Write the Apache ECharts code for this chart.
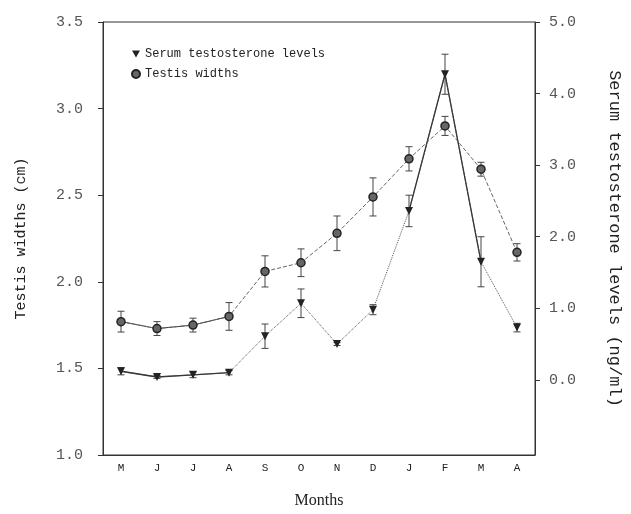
<!DOCTYPE html>
<html>
<head>
<meta charset="utf-8">
<script src="https://cdn.jsdelivr.net/npm/echarts@6/dist/echarts.min.js"></script>
<style>
  html, body { margin: 0; padding: 0; background: #fff; }
  #main { width: 631px; height: 514px; }
</style>
</head>
<body>
<div id="main"></div>
<script>
// months from May to April
const months = ['M', 'J', 'J', 'A', 'S', 'O', 'N', 'D', 'J', 'F', 'M', 'A'];

// testis widths (cm), left axis
const testisWidth = [1.77, 1.73, 1.75, 1.80, 2.06, 2.11, 2.28, 2.49, 2.71, 2.90, 2.65, 2.17];
const testisErr = [0.06, 0.04, 0.04, 0.08, 0.09, 0.08, 0.10, 0.11, 0.07, 0.055, 0.04, 0.05];

// serum testosterone (ng/ml), right axis
const testosterone = [0.12, 0.04, 0.07, 0.10, 0.61, 1.07, 0.50, 0.98, 2.36, 4.27, 1.65, 0.73];
const testoErr = [0.05, 0.02, 0.04, 0.03, 0.17, 0.20, 0.02, 0.07, 0.22, 0.28, 0.35, 0.06];

const leftTicks = [1.0, 1.5, 2.0, 2.5, 3.0, 3.5];
const rightTicks = [0, 1, 2, 3, 4, 5];

// segments drawn as solid lines in the original
const testoSolid = [0, 1, 2, 3, 8, 9, 10];
const testisSolid = [0, 1, 2, 3];

const mono = 'Liberation Mono';
const ink = '#333';

const chart = echarts.init(document.getElementById('main'));

function errBars(values, errs) {
  return values.map((v, i) => [i, v - errs[i], v + errs[i]]);
}

function renderErr(params, api) {
  const x = api.value(0);
  const top = api.coord([x, api.value(2)]);
  const bot = api.coord([x, api.value(1)]);
  const w = 3.5;
  const style = { stroke: '#444', lineWidth: 1 };
  return {
    type: 'group',
    children: [
      { type: 'line', shape: { x1: top[0], y1: top[1], x2: bot[0], y2: bot[1] }, style: style },
      { type: 'line', shape: { x1: top[0] - w, y1: top[1], x2: top[0] + w, y2: top[1] }, style: style },
      { type: 'line', shape: { x1: bot[0] - w, y1: bot[1], x2: bot[0] + w, y2: bot[1] }, style: style }
    ]
  };
}

const option = {
  animation: false,
  backgroundColor: '#fff',
  grid: {
    left: 103, right: 92, top: 22, bottom: 54,
    show: true, borderColor: ink, borderWidth: 1
  },
  legend: {
    orient: 'vertical',
    left: 126, top: 43,
    itemWidth: 8, itemHeight: 8, itemGap: 8,
    textStyle: { fontFamily: mono, fontSize: 12, color: '#222' },
    data: [
      { name: 'Serum testosterone levels', icon: 'path://M0,0 L10,0 L5,9 Z' },
      { name: 'Testis widths', icon: 'circle' }
    ]
  },
  xAxis: {
    type: 'category',
    data: months,
    name: 'Months',
    nameLocation: 'middle',
    nameGap: 38,
    nameTextStyle: { fontFamily: 'Liberation Serif', fontSize: 16, color: '#222' },
    axisLine: { onZero: false, lineStyle: { color: ink } },
    axisTick: { inside: true, length: 7, lineStyle: { color: ink } },
    axisLabel: { fontFamily: mono, fontSize: 11, color: '#222', margin: 8 }
  },
  yAxis: [
    {
      type: 'value',
      min: 1.0, max: 3.5, interval: 0.5,
      name: 'Testis widths (cm)',
      nameLocation: 'middle',
      nameGap: 74,
      nameTextStyle: { fontFamily: mono, fontSize: 15, color: '#222' },
      axisLine: { show: true, lineStyle: { color: ink } },
      axisTick: { show: true, length: 5, lineStyle: { color: ink } },
      axisLabel: {
        fontFamily: mono, fontSize: 15, color: '#555', margin: 20,
        formatter: v => leftTicks.includes(v) ? v.toFixed(1) : ''
      },
      splitLine: { show: false }
    },
    {
      type: 'value',
      min: -1.05, max: 5,
      position: 'right',
      name: 'Serum testosterone levels (ng/ml)',
      nameLocation: 'middle',
      nameRotate: -90,
      nameGap: 71,
      nameTextStyle: { fontFamily: mono, fontSize: 17, color: '#222' },
      axisLine: { show: true, onZero: false, lineStyle: { color: ink } },
      axisTick: { show: true, length: 5, lineStyle: { color: ink }, customValues: rightTicks },
      axisLabel: {
        fontFamily: mono, fontSize: 15, color: '#555', margin: 14,
        customValues: rightTicks,
        formatter: v => v.toFixed(1)
      },
      splitLine: { show: false }
    }
  ],
  series: [
    {
      name: 'Serum testosterone levels',
      type: 'line',
      yAxisIndex: 1,
      data: testosterone,
      symbol: 'triangle',
      symbolRotate: 180,
      symbolSize: 8,
      itemStyle: { color: '#222' },
      lineStyle: { color: '#555', width: 1, type: 'dotted' },
      z: 5
    },
    {
      name: 'testo-solid',
      type: 'line',
      yAxisIndex: 1,
      data: testosterone.map((v, i) => testoSolid.includes(i) ? v : null),
      showSymbol: false,
      silent: true,
      lineStyle: { color: '#222', width: 1.3, type: 'solid' },
      z: 4
    },
    {
      name: 'Testis widths',
      type: 'line',
      yAxisIndex: 0,
      data: testisWidth,
      symbol: 'circle',
      symbolSize: 8,
      itemStyle: { color: '#666', borderColor: '#222', borderWidth: 1.5 },
      lineStyle: { color: '#666', width: 1, type: 'dashed' },
      z: 5
    },
    {
      name: 'testis-solid',
      type: 'line',
      yAxisIndex: 0,
      data: testisWidth.map((v, i) => testisSolid.includes(i) ? v : null),
      showSymbol: false,
      silent: true,
      lineStyle: { color: '#333', width: 1, type: 'solid' },
      z: 4
    },
    {
      name: 'testo-err',
      type: 'custom',
      yAxisIndex: 1,
      data: errBars(testosterone, testoErr),
      encode: { x: 0, y: [1, 2] },
      renderItem: renderErr,
      silent: true,
      z: 3
    },
    {
      name: 'testis-err',
      type: 'custom',
      yAxisIndex: 0,
      data: errBars(testisWidth, testisErr),
      encode: { x: 0, y: [1, 2] },
      renderItem: renderErr,
      silent: true,
      z: 3
    }
  ]
};

option && chart.setOption(option);
</script>
</body>
</html>
